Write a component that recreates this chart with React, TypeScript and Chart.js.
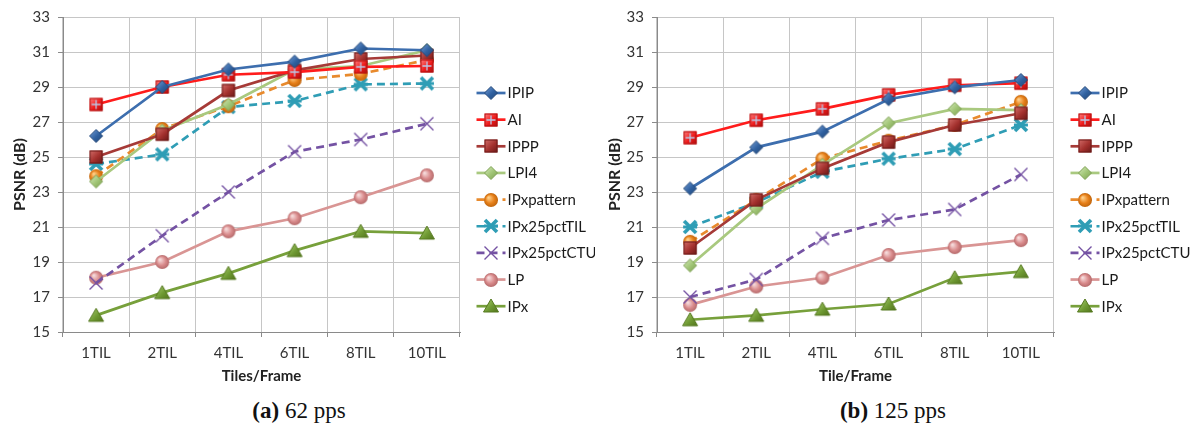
import React, { useEffect, useRef } from 'react';
import { Chart, registerables } from 'chart.js';
Chart.register(...registerables);

const categories = ['1TIL', '2TIL', '4TIL', '6TIL', '8TIL', '10TIL'];
const seriesNames = ['IPIP', 'AI', 'IPPP', 'LPI4', 'IPxpattern', 'IPx25pctTIL', 'IPx25pctCTU', 'LP', 'IPx'];
const yMin = 15;
const yMax = 33;
const yStep = 2;

// (a) 62 pps
const ipip62 = [26.2, 29.0, 30.0, 30.45, 31.2, 31.1];
const ai62 = [28.0, 29.0, 29.7, 29.85, 30.15, 30.2];
const ippp62 = [25.0, 26.3, 28.8, 29.95, 30.6, 30.8];
const lpi4_62 = [23.6, 26.5, 28.0, 30.0, 30.2, 31.1];
const ipxpattern62 = [23.9, 26.6, 27.9, 29.4, 29.75, 30.55];
const ipx25til62 = [24.6, 25.15, 27.85, 28.2, 29.15, 29.2];
const ipx25ctu62 = [17.8, 20.5, 23.0, 25.3, 26.0, 26.9];
const lp62 = [18.1, 19.0, 20.75, 21.5, 22.7, 23.95];
const ipx62 = [15.95, 17.25, 18.35, 19.65, 20.75, 20.65];

// (b) 125 pps
const ipip125 = [23.2, 25.55, 26.45, 28.3, 28.98, 29.4];
const ai125 = [26.1, 27.1, 27.75, 28.55, 29.1, 29.22];
const ippp125 = [19.8, 22.55, 24.35, 25.85, 26.83, 27.5];
const lpi4_125 = [18.8, 22.05, 24.55, 26.93, 27.75, 27.68];
const ipxpattern125 = [20.15, 22.55, 24.9, 25.93, 26.83, 28.15];
const ipx25til125 = [21.0, 22.4, 24.15, 24.9, 25.45, 26.83];
const ipx25ctu125 = [17.0, 18.0, 20.35, 21.4, 22.0, 24.0];
const lp125 = [16.55, 17.6, 18.1, 19.4, 19.85, 20.25];
const ipx125 = [15.7, 15.95, 16.3, 16.6, 18.1, 18.45];

const data62 = [ipip62, ai62, ippp62, lpi4_62, ipxpattern62, ipx25til62, ipx25ctu62, lp62, ipx62];
const data125 = [ipip125, ai125, ippp125, lpi4_125, ipxpattern125, ipx25til125, ipx25ctu125, lp125, ipx125];

type Style = { line: string; width: number; dash: number[]; kind: string; fill: string; stroke: string; light: string };
const styles: Style[] = [
  { line: '#3d6eae', width: 2.7, dash: [], kind: 'diamond', fill: '#2f609f', stroke: '#24497a', light: '#6f9ad4' },
  { line: '#ff1c1c', width: 2.7, dash: [], kind: 'squareCross', fill: '#ee1b1b', stroke: '#b31010', light: '#ff7a7a' },
  { line: '#a63a37', width: 2.7, dash: [], kind: 'square', fill: '#a3302d', stroke: '#6e1b19', light: '#d16a66' },
  { line: '#a9c97f', width: 2.7, dash: [], kind: 'diamond', fill: '#9fc474', stroke: '#7fa255', light: '#d2e8b6' },
  { line: '#e88a2d', width: 2.7, dash: [8, 5], kind: 'circle', fill: '#e7801a', stroke: '#c0650c', light: '#ffd08a' },
  { line: '#2f9db5', width: 2.7, dash: [8, 5], kind: 'star', fill: '#2f9db5', stroke: '#2f9db5', light: '#2f9db5' },
  { line: '#7452a3', width: 2.7, dash: [8, 5], kind: 'x', fill: '#7452a3', stroke: '#7452a3', light: '#7452a3' },
  { line: '#d99594', width: 2.7, dash: [], kind: 'circle', fill: '#d98b8c', stroke: '#b56a6b', light: '#f7dede' },
  { line: '#77a03b', width: 2.7, dash: [], kind: 'triangle', fill: '#6f9a33', stroke: '#55781f', light: '#a4c96b' },
];

function makeMarker(st: Style): HTMLCanvasElement {
  const s = 18;
  const c = document.createElement('canvas');
  c.width = s;
  c.height = s;
  const ctx = c.getContext('2d') as CanvasRenderingContext2D;
  const m = s / 2;
  ctx.lineJoin = 'miter';
  const grad = ctx.createLinearGradient(m - 6, m - 6, m + 6, m + 6);
  grad.addColorStop(0, st.light);
  grad.addColorStop(0.55, st.fill);
  grad.addColorStop(1, st.stroke);
  if (st.kind === 'diamond') {
    const r = 6.5;
    ctx.beginPath();
    ctx.moveTo(m, m - r);
    ctx.lineTo(m + r, m);
    ctx.lineTo(m, m + r);
    ctx.lineTo(m - r, m);
    ctx.closePath();
    ctx.fillStyle = grad;
    ctx.fill();
    ctx.lineWidth = 1;
    ctx.strokeStyle = st.stroke;
    ctx.stroke();
  } else if (st.kind === 'square' || st.kind === 'squareCross') {
    const r = 6.5;
    ctx.fillStyle = grad;
    ctx.fillRect(m - r, m - r, 2 * r, 2 * r);
    ctx.lineWidth = 1;
    ctx.strokeStyle = st.stroke;
    ctx.strokeRect(m - r + 0.5, m - r + 0.5, 2 * r - 1, 2 * r - 1);
    if (st.kind === 'squareCross') {
      ctx.strokeStyle = '#b9c8e6';
      ctx.lineWidth = 1.3;
      ctx.beginPath();
      ctx.moveTo(m, m - r + 2);
      ctx.lineTo(m, m + r - 2);
      ctx.moveTo(m - r + 2, m);
      ctx.lineTo(m + r - 2, m);
      ctx.stroke();
    }
  } else if (st.kind === 'circle') {
    const r = 7;
    const rg = ctx.createRadialGradient(m - 2.5, m - 2.5, 0.5, m, m, r);
    rg.addColorStop(0, st.light);
    rg.addColorStop(0.6, st.fill);
    rg.addColorStop(1, st.stroke);
    ctx.beginPath();
    ctx.arc(m, m, r, 0, Math.PI * 2);
    ctx.fillStyle = rg;
    ctx.fill();
  } else if (st.kind === 'triangle') {
    ctx.beginPath();
    ctx.moveTo(m, m - 7);
    ctx.lineTo(m + 7.5, m + 6);
    ctx.lineTo(m - 7.5, m + 6);
    ctx.closePath();
    ctx.fillStyle = grad;
    ctx.fill();
    ctx.lineWidth = 1;
    ctx.strokeStyle = st.stroke;
    ctx.stroke();
  } else if (st.kind === 'star') {
    ctx.strokeStyle = st.fill;
    ctx.lineCap = 'butt';
    ctx.lineWidth = 3.6;
    const r = 6;
    ctx.beginPath();
    ctx.moveTo(m - r, m - r);
    ctx.lineTo(m + r, m + r);
    ctx.moveTo(m + r, m - r);
    ctx.lineTo(m - r, m + r);
    ctx.stroke();
    ctx.lineWidth = 3;
    ctx.beginPath();
    ctx.moveTo(m - 7, m);
    ctx.lineTo(m + 7, m);
    ctx.stroke();
  } else if (st.kind === 'x') {
    ctx.strokeStyle = st.fill;
    ctx.lineWidth = 1.4;
    const r = 6.5;
    ctx.beginPath();
    ctx.moveTo(m - r, m - r);
    ctx.lineTo(m + r, m + r);
    ctx.moveTo(m + r, m - r);
    ctx.lineTo(m - r, m + r);
    ctx.stroke();
  }
  return c;
}

const FONT = 'Lato, "Open Sans", sans-serif';

function makeLegendPlugin(markers: HTMLCanvasElement[]) {
  return {
    id: 'sideLegend',
    afterDraw(chart: any) {
      const { ctx, chartArea } = chart;
      const x0 = chartArea.right + 16.5;
      ctx.save();
      chart.data.datasets.forEach((ds: any, i: number) => {
        const y = 93 + i * 26.65;
        ctx.save();
        ctx.strokeStyle = ds.borderColor;
        ctx.lineWidth = ds.borderWidth;
        ctx.setLineDash(ds.borderDash || []);
        ctx.beginPath();
        ctx.moveTo(x0, y);
        ctx.lineTo(x0 + 29, y);
        ctx.stroke();
        ctx.restore();
        const mk = markers[i];
        ctx.drawImage(mk, Math.round(x0 + 14.5 - mk.width / 2), Math.round(y - mk.height / 2));
        ctx.fillStyle = '#1a1a1a';
        ctx.font = '15px ' + FONT;
        ctx.textBaseline = 'middle';
        ctx.textAlign = 'left';
        ctx.fillText(ds.label, x0 + 31, y + 0.5);
      });
      ctx.restore();
    },
  };
}

function PsnrChart(props: { values: number[][]; xTitle: string; yWidth: number; rightPad: number; width: number }) {
  const ref = useRef<HTMLCanvasElement | null>(null);
  useEffect(() => {
    const canvas = ref.current;
    if (!canvas) return;
    const markers = styles.map(makeMarker);
    const chart = new Chart(canvas, {
      type: 'line',
      data: {
        labels: categories,
        datasets: seriesNames.map((name, i) => ({
          label: name,
          data: props.values[i],
          borderColor: styles[i].line,
          backgroundColor: styles[i].fill,
          borderWidth: styles[i].width,
          borderDash: styles[i].dash,
          pointStyle: markers[i] as any,
          pointRadius: 7,
          pointHoverRadius: 7,
          tension: 0,
          fill: false,
        })),
      },
      options: {
        animation: false,
        responsive: false,
        events: [],
        layout: { padding: { left: 0, right: props.rightPad, top: 17, bottom: 0 } },
        plugins: {
          legend: { display: false },
          tooltip: { enabled: false },
          title: { display: false },
        },
        scales: {
          x: {
            type: 'category',
            offset: true,
            grid: { color: '#c6c6c6', lineWidth: 1, offset: true, drawTicks: true, tickLength: 5, tickColor: '#8a8a8a' },
            border: { color: '#8a8a8a', width: 1 },
            ticks: { color: '#333333', font: { family: FONT, size: 15 }, padding: 7, maxRotation: 0 },
            title: {
              display: true,
              text: props.xTitle,
              color: '#222222',
              font: { family: FONT, size: 15, weight: 'bold' },
              padding: { top: 0, bottom: 10 },
            },
            afterFit: (s: any) => {
              s.height = 63;
            },
          },
          y: {
            min: yMin,
            max: yMax,
            grid: { color: '#c6c6c6', lineWidth: 1, drawTicks: true, tickLength: 5, tickColor: '#8a8a8a' },
            border: { color: '#8a8a8a', width: 1 },
            ticks: { stepSize: yStep, color: '#333333', font: { family: FONT, size: 15 }, padding: 8 },
            title: {
              display: true,
              text: 'PSNR (dB)',
              color: '#222222',
              font: { family: FONT, size: 16, weight: 'bold' },
              padding: { top: 10, bottom: 0 },
            },
            afterFit: (s: any) => {
              s.width = props.yWidth;
            },
          },
        },
      },
      plugins: [makeLegendPlugin(markers)],
    });
    return () => chart.destroy();
  }, []);
  return <canvas ref={ref} width={props.width} height={395} style={{ width: props.width, height: 395, display: 'block' }} />;
}

const captionStyle: React.CSSProperties = {
  position: 'absolute',
  top: 398,
  fontFamily: '"Liberation Serif", "DejaVu Serif", serif',
  fontSize: 23,
  lineHeight: '26px',
  color: '#111',
  whiteSpace: 'nowrap',
  transform: 'translateX(-50%)',
};

export default function App() {
  return (
    <div style={{ position: 'absolute', left: 0, top: 0, width: 1191, height: 425, background: '#fff', overflow: 'hidden' }}>
      <div style={{ position: 'absolute', left: 0, top: 0 }}>
        <PsnrChart values={data62} xTitle="Tiles/Frame" yWidth={63} rightPad={135} width={595} />
      </div>
      <div style={{ position: 'absolute', left: 595, top: 0 }}>
        <PsnrChart values={data125} xTitle="Tile/Frame" yWidth={62} rightPad={137} width={596} />
      </div>
      <div style={{ ...captionStyle, left: 299 }}>
        <b>(a)</b> 62 pps
      </div>
      <div style={{ ...captionStyle, left: 893 }}>
        <b>(b)</b> 125 pps
      </div>
    </div>
  );
}
